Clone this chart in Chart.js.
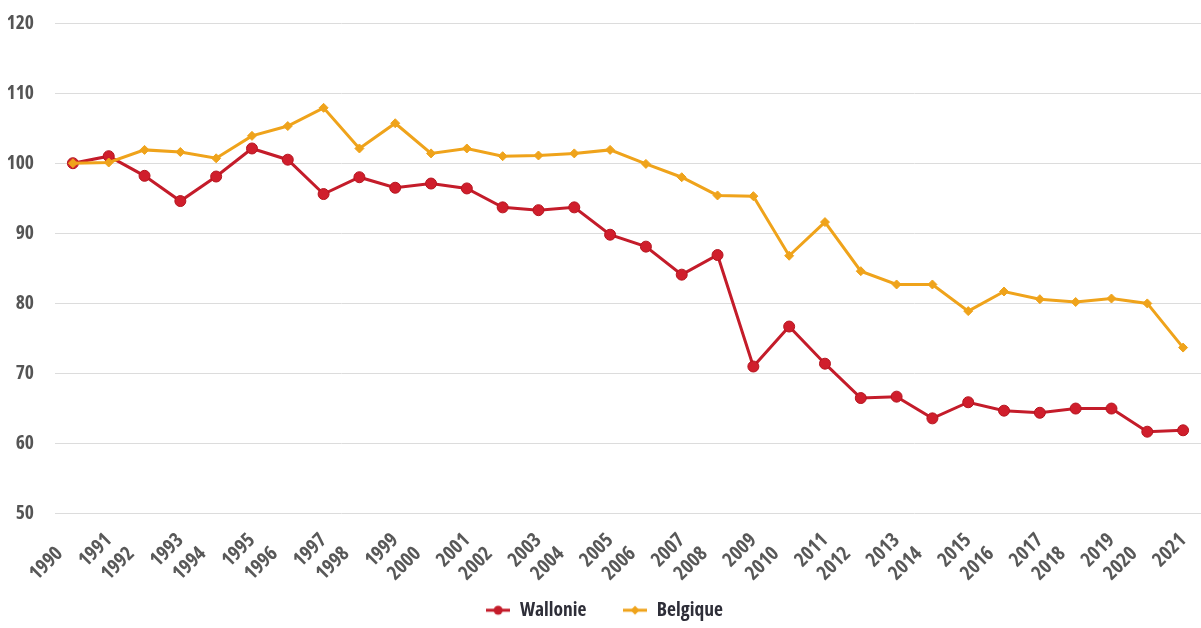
<!DOCTYPE html>
<html><head><meta charset="utf-8">
<script src="https://cdn.jsdelivr.net/npm/chart.js@4"></script>
<style>html,body{margin:0;padding:0;background:#fff}#wrap{width:1201px;height:628px;position:relative}</style>
</head><body><div id="wrap"><canvas id="c"></canvas></div>
<script>
const years = ['1990','1991','1992','1993','1994','1995','1996','1997','1998','1999','2000','2001','2002','2003','2004','2005','2006','2007','2008','2009','2010','2011','2012','2013','2014','2015','2016','2017','2018','2019','2020','2021'];
const wallonie = [100,101.0,98.2,94.6,98.1,102.1,100.5,95.6,98.0,96.5,97.1,96.4,93.7,93.3,93.7,89.8,88.1,84.1,86.9,71.0,76.7,71.4,66.5,66.7,63.6,65.9,64.7,64.4,65.0,65.0,61.7,61.9];
const belgique = [100,100.1,101.9,101.6,100.7,103.9,105.3,107.9,102.1,105.7,101.4,102.1,101.0,101.1,101.4,101.9,99.9,98.0,95.4,95.3,86.8,91.6,84.6,82.7,82.7,78.9,81.7,80.6,80.2,80.7,80.0,73.7];
const seriesNames = ['Wallonie','Belgique'];
const yMin = 50, yMax = 120, yStep = 10;

const RED = '#C41C2A', RED_FILL = '#D01E2C', ORANGE = '#EFA31B';

// pick the narrowest installed bold face
function pickFont(){
  const ctx = document.createElement('canvas').getContext('2d');
  const sample = '0123456789 Wallonie';
  ctx.font = 'bold 100px monospace';
  const mono = ctx.measureText(sample).width;
  const cands = [
    ['extra-condensed', "'Noto Sans'"],
    ['condensed', "'Noto Sans'"],
    ['condensed', "'Roboto'"],
    ['condensed', "'Open Sans'"],
    ['normal', "'Roboto Condensed'"],
    ['normal', "'Open Sans Condensed'"],
    ['normal', "'Noto Sans Condensed'"],
    ['condensed', "'DejaVu Sans'"]
  ];
  let best = ['normal', "'DejaVu Sans Condensed'"], bw = Infinity;
  for (const [st, fam] of cands) {
    ctx.font = 'bold ' + st + ' 100px ' + fam + ', monospace';
    const w = ctx.measureText(sample).width;
    if (Math.abs(w - mono) > 0.5 && w < bw) { bw = w; best = [st, fam]; }
  }
  return { weight: 'bold ' + best[0], family: best[1] + ', sans-serif' };
}
const F = pickFont();

function mkIcon(color, shape){
  const c = document.createElement('canvas');
  c.width = 24; c.height = 14;
  const x = c.getContext('2d');
  x.strokeStyle = color; x.lineWidth = 3;
  x.beginPath(); x.moveTo(0,7); x.lineTo(24,7); x.stroke();
  x.fillStyle = color;
  x.beginPath();
  if (shape === 'circle') { x.arc(12,7,4.5,0,Math.PI*2); }
  else { x.moveTo(12,2.5); x.lineTo(16.5,7); x.lineTo(12,11.5); x.lineTo(7.5,7); x.closePath(); }
  x.fill();
  return c;
}
const icons = [mkIcon(RED,'circle'), mkIcon(ORANGE,'diamond')];

new Chart(document.getElementById('c'), {
  type: 'line',
  data: {
    labels: years,
    datasets: [
      { label: seriesNames[0], data: wallonie, order: 1, borderColor: RED, backgroundColor: RED_FILL,
        pointBackgroundColor: RED_FILL, pointBorderColor: '#B5151F', pointBorderWidth: 1,
        pointStyle: 'circle', pointRadius: 5.5, borderWidth: 3, tension: 0 },
      { label: seriesNames[1], data: belgique, order: 0, borderColor: ORANGE, backgroundColor: ORANGE,
        pointBackgroundColor: ORANGE, pointBorderColor: ORANGE, pointBorderWidth: 1,
        pointStyle: 'rectRot', pointRadius: 4.5, borderWidth: 3, tension: 0 }
    ]
  },
  options: {
    responsive: true, maintainAspectRatio: false, animation: false,
    layout: { autoPadding: false, padding: { top: 23, left: 8, right: 0, bottom: -2 } },
    plugins: {
      tooltip: { enabled: false },
      legend: {
        position: 'bottom',
        labels: {
          usePointStyle: true, pointStyleWidth: 24, padding: 0,
          font: { family: F.family, size: 19.5, weight: F.weight }, color: '#2e2e38',
          generateLabels: () => seriesNames.map((n,i) => ({
            text: i === 0 ? n + '\u2007\u2007\u2007\u2007' : n, pointStyle: icons[i], fillStyle: 'transparent', strokeStyle: 'transparent',
            lineWidth: 0, hidden: false, datasetIndex: i, fontColor: '#2e2e38'
          }))
        }
      }
    },
    scales: {
      x: {
        offset: true,
        grid: { display: false, drawTicks: false },
        border: { display: false },
        afterFit: (s) => { s.paddingLeft = 0; s.paddingRight = 0; },
        ticks: {
          autoSkip: false, minRotation: 45, maxRotation: 45, padding: 15,
          color: '#585858', font: { family: F.family, size: 20, weight: F.weight },
          callback: (v, i) => (i % 2 === 0) ? years[i] + '\u2007\u2007' : years[i]
        }
      },
      y: {
        min: yMin, max: yMax,
        grid: { color: '#dcdcdc', lineWidth: 1, drawTicks: false },
        border: { display: false },
        afterFit: (s) => { s.paddingTop = 0; s.paddingBottom = 0; s.width = 47; },
        ticks: { stepSize: yStep, padding: 21, color: '#555', font: { family: F.family, size: 19.5, weight: F.weight } }
      }
    }
  }
});
</script></body></html>
